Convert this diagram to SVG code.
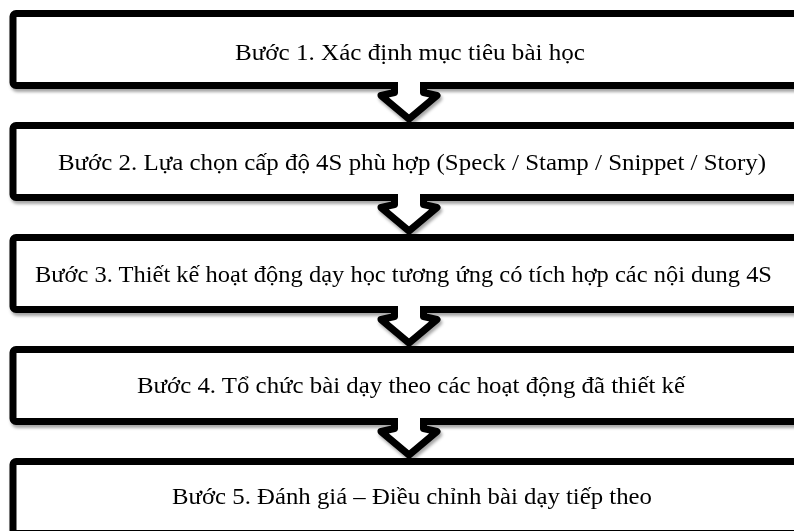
<svg xmlns="http://www.w3.org/2000/svg" width="794" height="531" viewBox="0 0 794 531">
  <defs>
    <filter id="sh" x="-5%" y="-20%" width="110%" height="160%">
      <feDropShadow dx="1.5" dy="3" stdDeviation="1.8" flood-color="#000" flood-opacity="0.35"/>
    </filter>
  </defs>
  <style>
    .box { fill: #ffffff; stroke: #000000; stroke-width: 7; stroke-linejoin: round; }
    .arr { fill: #ffffff; stroke: #000000; stroke-width: 7; stroke-linejoin: round; stroke-linecap: butt; }
    .lbl { font-family: "Liberation Serif", "Times New Roman", serif; font-size: 23px; fill: #000000; text-anchor: middle; }
  </style>
  <rect x="0" y="0" width="794" height="531" fill="#ffffff"/>
  <g filter="url(#sh)">
    <g id="step1">
      <rect class="box" x="13" y="13.5" width="800" height="72" rx="3"/>
      <text class="lbl" x="410" y="60" textLength="350" lengthAdjust="spacingAndGlyphs">Bước 1. Xác định mục tiêu bài học</text>
    </g>
    <g id="step2">
      <rect class="box" x="13" y="125.5" width="800" height="72" rx="3"/>
      <text class="lbl" x="412" y="169.5" textLength="708" lengthAdjust="spacingAndGlyphs">Bước 2. Lựa chọn cấp độ 4S phù hợp (Speck / Stamp / Snippet / Story)</text>
    </g>
    <g id="step3">
      <rect class="box" x="13" y="237.5" width="800" height="72" rx="3"/>
      <text class="lbl" x="403.5" y="281.5" textLength="737" lengthAdjust="spacingAndGlyphs">Bước 3. Thiết kế hoạt động dạy học tương ứng có tích hợp các nội dung 4S</text>
    </g>
    <g id="step4">
      <rect class="box" x="13" y="349.5" width="800" height="72" rx="3"/>
      <text class="lbl" x="411" y="393" textLength="548" lengthAdjust="spacingAndGlyphs">Bước 4. Tổ chức bài dạy theo các hoạt động đã thiết kế</text>
    </g>
    <g id="step5">
      <rect class="box" x="13" y="461.5" width="800" height="72" rx="3"/>
      <text class="lbl" x="412" y="504" textLength="480" lengthAdjust="spacingAndGlyphs">Bước 5. Đánh giá – Điều chỉnh bài dạy tiếp theo</text>
    </g>
    <g id="connectors">
      <path class="arr" d="M394.5,82 L394.5,92.5 L381,95.5 L409,119 L437,95.5 L423.5,92.5 L423.5,82"/>
      <path class="arr" d="M394.5,194 L394.5,204.5 L381,207.5 L409,231 L437,207.5 L423.5,204.5 L423.5,194"/>
      <path class="arr" d="M394.5,306 L394.5,316.5 L381,319.5 L409,343 L437,319.5 L423.5,316.5 L423.5,306"/>
      <path class="arr" d="M394.5,418 L394.5,428.5 L381,431.5 L409,455 L437,431.5 L423.5,428.5 L423.5,418"/>
    </g>
  </g>
</svg>
